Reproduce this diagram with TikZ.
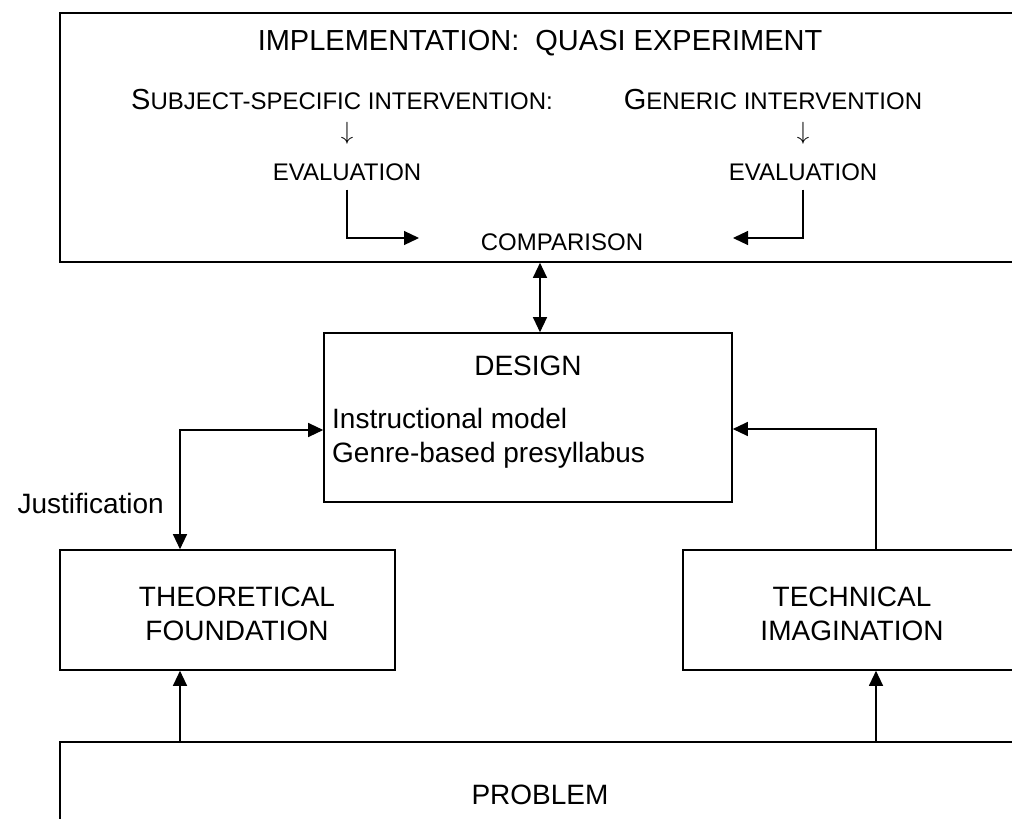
\documentclass[tikz,border=0pt]{standalone}
\usepackage{fontspec}
\setmainfont{Liberation Sans}
\usetikzlibrary{arrows.meta}

\newcommand{\bigsize}{\fontsize{28}{34}\selectfont}
\newcommand{\titlesize}{\fontsize{29}{35}\selectfont}
\newcommand{\smallsize}{\fontsize{24}{28}\selectfont}
% first letter at full size, the rest in the smaller caps
\newcommand{\fakesc}[2]{{\titlesize #1}{\smallsize #2}}

\begin{document}
\begin{tikzpicture}[x=1pt,y=1pt]
		\tikzstyle{every node}+=[inner sep=0pt]
		\tikzstyle{box}=[draw=black, line width=1.6pt]
		\tikzstyle{bigtext}=[font=\bigsize]
		\tikzstyle{titletext}=[font=\titlesize]
		\tikzstyle{smalltext}=[font=\smallsize]
		\tikzstyle{downarrow}=[font=\fontsize{33}{38}\selectfont]
		\tikzstyle{link}=[black, line width=1.2pt, -{Triangle[length=15pt,width=14pt]}]
		\tikzstyle{link2}=[link, {Triangle[length=15pt,width=14pt]}-{Triangle[length=15pt,width=14pt]}]
		\useasboundingbox (0,0) rectangle (1012,-819);
		\clip (0,0) rectangle (1012,-819);
		% quasi experiment
		\node [box, minimum width=960pt, minimum height=249pt] (impl) at (540,-137.5) {};
		\node [titletext] (impltitle) at (540,-43) {IMPLEMENTATION:\ \ QUASI EXPERIMENT};
		\node [titletext] (subj) at (342,-100) {\fakesc{S}{UBJECT-SPECIFIC INTERVENTION:}};
		\node [titletext] (gen) at (773,-100) {\fakesc{G}{ENERIC INTERVENTION}};
		\node [downarrow] (downL) at (347,-133) {$\downarrow$};
		\node [downarrow] (downR) at (803,-133) {$\downarrow$};
		\node [smalltext] (evalL) at (347,-172) {EVALUATION};
		\node [smalltext] (evalR) at (803,-172) {EVALUATION};
		\node [smalltext] (cmp) at (562,-242) {COMPARISON};
		\coordinate (cmpL) at (419,-238);
		\coordinate (cmpR) at (733,-238);
		\draw [link] ([yshift=-9pt]evalL.south) |- (cmpL);
		\draw [link] ([yshift=-9pt]evalR.south) |- (cmpR);
		% design
		\node [box, minimum width=408pt, minimum height=169pt] (design) at (528,-417.5) {};
		\node [bigtext] (designtitle) at (528,-366) {DESIGN};
		\node [bigtext, anchor=west, align=left] (designbody) at (332,-438) {Instructional model\\Genre-based presyllabus};
		\draw [link2] (impl.south) -- (impl.south |- design.north);
		% foundation and imagination
		\node [box, minimum width=335pt, minimum height=120pt] (theory) at (227.5,-610) {};
		\node [bigtext, align=center] (theorytext) at (237,-614) {THEORETICAL\\FOUNDATION};
		\node [box, minimum width=338pt, minimum height=120pt] (tech) at (852,-610) {};
		\node [bigtext, align=center] (techtext) at (852,-614) {TECHNICAL\\IMAGINATION};
		\node [box, minimum width=960pt, minimum height=160pt] (problem) at (540,-822) {};
		\node [bigtext] (problemtext) at (540,-795) {PROBLEM};
		\coordinate (lcol) at (180,-430);
		\coordinate (rcol) at (876,-429);
		\draw [link2] (theory.north -| lcol) |- (design.west |- lcol);
		\node [bigtext, anchor=east] (justif) at (164,-503) {Justification};
		\draw [link] (tech.north -| rcol) |- (design.east |- rcol);
		\draw [link] (problem.north -| lcol) -- (theory.south -| lcol);
		\draw [link] (problem.north -| rcol) -- (tech.south -| rcol);
	\end{tikzpicture}
\end{document}
